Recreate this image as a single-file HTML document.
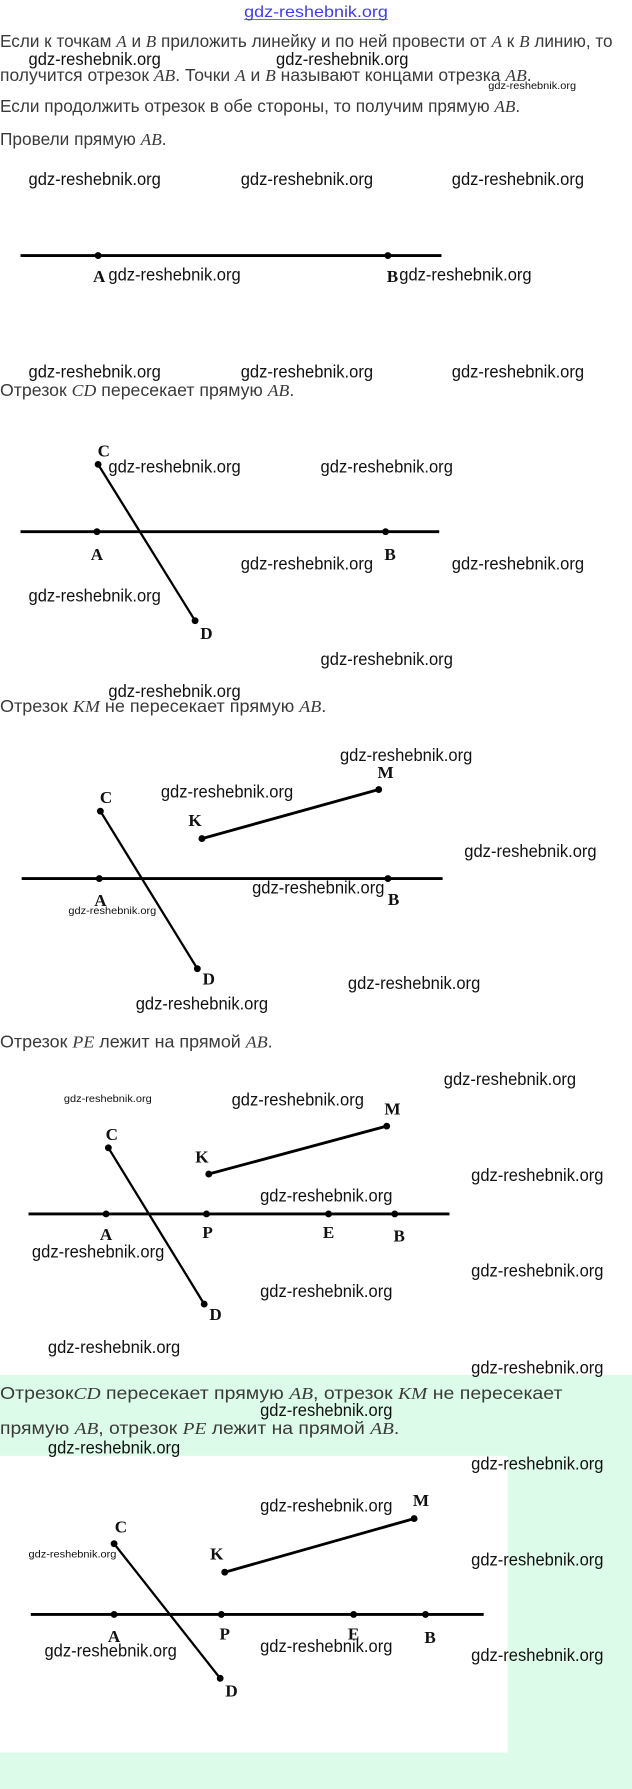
<!DOCTYPE html>
<html><head><meta charset="utf-8"><style>
html,body{margin:0;padding:0;background:#fff;}
svg{display:block;}
.w{font-family:"Liberation Sans Narrow","Liberation Sans",sans-serif;font-size:15px;fill:#111;}
.ws{font-family:"Liberation Sans Narrow","Liberation Sans",sans-serif;font-size:9px;fill:#111;}
.t{font-family:"Liberation Sans","DejaVu Sans",sans-serif;font-size:15px;fill:#3a3a3a;}
.m{font-family:"Liberation Serif",serif;font-style:italic;}
.l{font-family:"Liberation Serif",serif;font-weight:bold;font-size:15px;fill:#111;}
</style></head><body>
<svg width="632" height="1789" viewBox="0 0 554 1568" preserveAspectRatio="none" xmlns="http://www.w3.org/2000/svg">
<rect x="0" y="1205" width="554" height="363" fill="#dcfce9"/>
<rect x="0" y="1276" width="445" height="260" fill="#fff"/>
<text x="214" y="15" font-family="Liberation Sans Narrow, Liberation Sans, sans-serif" font-size="14" fill="#3d3df0" textLength="126" lengthAdjust="spacingAndGlyphs">gdz-reshebnik.org</text>
<line x1="214" y1="17" x2="340" y2="17" stroke="#3d3df0" stroke-width="0.7"/>

<g class="t">
<text x="0" y="41" textLength="537" lengthAdjust="spacingAndGlyphs">Если к точкам <tspan class="m">A</tspan> и <tspan class="m">B</tspan> приложить линейку и по ней провести от <tspan class="m">A</tspan> к <tspan class="m">B</tspan> линию, то</text>
<text x="0" y="71" textLength="466" lengthAdjust="spacingAndGlyphs">получится отрезок <tspan class="m">AB</tspan>. Точки <tspan class="m">A</tspan> и <tspan class="m">B</tspan> называют концами отрезка <tspan class="m">AB</tspan>.</text>
<text x="0" y="98" textLength="456" lengthAdjust="spacingAndGlyphs">Если продолжить отрезок в обе стороны, то получим прямую <tspan class="m">AB</tspan>.</text>
<text x="0" y="127" textLength="146" lengthAdjust="spacingAndGlyphs">Провели прямую <tspan class="m">AB</tspan>.</text>
<text x="0" y="347" textLength="258" lengthAdjust="spacingAndGlyphs">Отрезок <tspan class="m">CD</tspan> пересекает прямую <tspan class="m">AB</tspan>.</text>
<text x="0" y="624" textLength="286" lengthAdjust="spacingAndGlyphs">Отрезок <tspan class="m">KM</tspan> не пересекает прямую <tspan class="m">AB</tspan>.</text>
<text x="0" y="918" textLength="239" lengthAdjust="spacingAndGlyphs">Отрезок <tspan class="m">PE</tspan> лежит на прямой <tspan class="m">AB</tspan>.</text>
<text x="0" y="1226" textLength="493" lengthAdjust="spacingAndGlyphs">Отрезок<tspan class="m">CD</tspan> пересекает прямую <tspan class="m">AB</tspan>, отрезок <tspan class="m">KM</tspan> не пересекает</text>
<text x="0" y="1257" textLength="350" lengthAdjust="spacingAndGlyphs">прямую <tspan class="m">AB</tspan>, отрезок <tspan class="m">PE</tspan> лежит на прямой <tspan class="m">AB</tspan>.</text>
</g>

<g stroke="#000" fill="none">
<line x1="18" y1="224" x2="387" y2="224" stroke-width="2.5"/>
<line x1="18" y1="466" x2="385" y2="466" stroke-width="2.5"/>
<line x1="86" y1="407" x2="171" y2="544" stroke-width="2"/>
<line x1="19" y1="770" x2="388" y2="770" stroke-width="2.5"/>
<line x1="88" y1="711" x2="173" y2="849" stroke-width="2"/>
<line x1="177" y1="735" x2="332" y2="692" stroke-width="2.5"/>
<line x1="25" y1="1064" x2="394" y2="1064" stroke-width="2.5"/>
<line x1="95" y1="1006" x2="179" y2="1143" stroke-width="2"/>
<line x1="183" y1="1029" x2="339" y2="987" stroke-width="2.5"/>
<line x1="27" y1="1415" x2="424" y2="1415" stroke-width="2.5"/>
<line x1="100" y1="1353" x2="193" y2="1471" stroke-width="2"/>
<line x1="197" y1="1378" x2="363" y2="1331" stroke-width="2.5"/>
</g>
<g fill="#000">
<circle cx="86" cy="224" r="3"/><circle cx="340" cy="224" r="3"/>
<circle cx="85" cy="466" r="3"/><circle cx="338" cy="466" r="3"/><circle cx="86" cy="407" r="3"/><circle cx="171" cy="544" r="3"/>
<circle cx="87" cy="770" r="3"/><circle cx="340" cy="770" r="3"/><circle cx="88" cy="711" r="3"/><circle cx="173" cy="849" r="3"/><circle cx="177" cy="735" r="3"/><circle cx="332" cy="692" r="3"/>
<circle cx="93" cy="1064" r="3"/><circle cx="181" cy="1064" r="3"/><circle cx="288" cy="1064" r="3"/><circle cx="346" cy="1064" r="3"/><circle cx="95" cy="1006" r="3"/><circle cx="179" cy="1143" r="3"/><circle cx="183" cy="1029" r="3"/><circle cx="339" cy="987" r="3"/>
<circle cx="100" cy="1415" r="3"/><circle cx="194" cy="1415" r="3"/><circle cx="310" cy="1415" r="3"/><circle cx="373" cy="1415" r="3"/><circle cx="100" cy="1353" r="3"/><circle cx="193" cy="1471" r="3"/><circle cx="197" cy="1378" r="3"/><circle cx="363" cy="1331" r="3"/>
</g>
<g class="l" text-anchor="middle">
<text x="87" y="247">A</text><text x="344" y="247">B</text>
<text x="91" y="400">C</text><text x="181" y="560">D</text><text x="85" y="491">A</text><text x="342" y="491">B</text>
<text x="93" y="704">C</text><text x="183" y="863">D</text><text x="171" y="724">K</text><text x="338" y="682">M</text><text x="88" y="794">A</text><text x="345" y="793">B</text>
<text x="98" y="999">C</text><text x="189" y="1157">D</text><text x="177" y="1019">K</text><text x="344" y="977">M</text><text x="93" y="1087">A</text><text x="182" y="1085">P</text><text x="288" y="1085">E</text><text x="350" y="1088">B</text>
<text x="106" y="1343">C</text><text x="203" y="1487">D</text><text x="190" y="1367">K</text><text x="369" y="1320">M</text><text x="100" y="1439">A</text><text x="197" y="1437">P</text><text x="310" y="1437">E</text><text x="377" y="1440">B</text>
</g>
<g class="w">
<text x="25" y="57" textLength="116" lengthAdjust="spacingAndGlyphs">gdz-reshebnik.org</text>
<text x="242" y="57" textLength="116" lengthAdjust="spacingAndGlyphs">gdz-reshebnik.org</text>
<text x="25" y="162" textLength="116" lengthAdjust="spacingAndGlyphs">gdz-reshebnik.org</text>
<text x="211" y="162" textLength="116" lengthAdjust="spacingAndGlyphs">gdz-reshebnik.org</text>
<text x="396" y="162" textLength="116" lengthAdjust="spacingAndGlyphs">gdz-reshebnik.org</text>
<text x="95" y="246" textLength="116" lengthAdjust="spacingAndGlyphs">gdz-reshebnik.org</text>
<text x="350" y="246" textLength="116" lengthAdjust="spacingAndGlyphs">gdz-reshebnik.org</text>
<text x="25" y="331" textLength="116" lengthAdjust="spacingAndGlyphs">gdz-reshebnik.org</text>
<text x="211" y="331" textLength="116" lengthAdjust="spacingAndGlyphs">gdz-reshebnik.org</text>
<text x="396" y="331" textLength="116" lengthAdjust="spacingAndGlyphs">gdz-reshebnik.org</text>
<text x="95" y="414" textLength="116" lengthAdjust="spacingAndGlyphs">gdz-reshebnik.org</text>
<text x="281" y="414" textLength="116" lengthAdjust="spacingAndGlyphs">gdz-reshebnik.org</text>
<text x="211" y="499" textLength="116" lengthAdjust="spacingAndGlyphs">gdz-reshebnik.org</text>
<text x="396" y="499" textLength="116" lengthAdjust="spacingAndGlyphs">gdz-reshebnik.org</text>
<text x="25" y="527" textLength="116" lengthAdjust="spacingAndGlyphs">gdz-reshebnik.org</text>
<text x="281" y="583" textLength="116" lengthAdjust="spacingAndGlyphs">gdz-reshebnik.org</text>
<text x="95" y="611" textLength="116" lengthAdjust="spacingAndGlyphs">gdz-reshebnik.org</text>
<text x="298" y="667" textLength="116" lengthAdjust="spacingAndGlyphs">gdz-reshebnik.org</text>
<text x="141" y="699" textLength="116" lengthAdjust="spacingAndGlyphs">gdz-reshebnik.org</text>
<text x="407" y="751" textLength="116" lengthAdjust="spacingAndGlyphs">gdz-reshebnik.org</text>
<text x="221" y="783" textLength="116" lengthAdjust="spacingAndGlyphs">gdz-reshebnik.org</text>
<text x="305" y="867" textLength="116" lengthAdjust="spacingAndGlyphs">gdz-reshebnik.org</text>
<text x="119" y="885" textLength="116" lengthAdjust="spacingAndGlyphs">gdz-reshebnik.org</text>
<text x="389" y="951" textLength="116" lengthAdjust="spacingAndGlyphs">gdz-reshebnik.org</text>
<text x="203" y="969" textLength="116" lengthAdjust="spacingAndGlyphs">gdz-reshebnik.org</text>
<text x="413" y="1035" textLength="116" lengthAdjust="spacingAndGlyphs">gdz-reshebnik.org</text>
<text x="228" y="1053" textLength="116" lengthAdjust="spacingAndGlyphs">gdz-reshebnik.org</text>
<text x="28" y="1102" textLength="116" lengthAdjust="spacingAndGlyphs">gdz-reshebnik.org</text>
<text x="413" y="1119" textLength="116" lengthAdjust="spacingAndGlyphs">gdz-reshebnik.org</text>
<text x="228" y="1137" textLength="116" lengthAdjust="spacingAndGlyphs">gdz-reshebnik.org</text>
<text x="42" y="1186" textLength="116" lengthAdjust="spacingAndGlyphs">gdz-reshebnik.org</text>
<text x="413" y="1204" textLength="116" lengthAdjust="spacingAndGlyphs">gdz-reshebnik.org</text>
<text x="228" y="1241" textLength="116" lengthAdjust="spacingAndGlyphs">gdz-reshebnik.org</text>
<text x="42" y="1274" textLength="116" lengthAdjust="spacingAndGlyphs">gdz-reshebnik.org</text>
<text x="413" y="1288" textLength="116" lengthAdjust="spacingAndGlyphs">gdz-reshebnik.org</text>
<text x="228" y="1325" textLength="116" lengthAdjust="spacingAndGlyphs">gdz-reshebnik.org</text>
<text x="413" y="1372" textLength="116" lengthAdjust="spacingAndGlyphs">gdz-reshebnik.org</text>
<text x="39" y="1452" textLength="116" lengthAdjust="spacingAndGlyphs">gdz-reshebnik.org</text>
<text x="228" y="1448" textLength="116" lengthAdjust="spacingAndGlyphs">gdz-reshebnik.org</text>
<text x="413" y="1456" textLength="116" lengthAdjust="spacingAndGlyphs">gdz-reshebnik.org</text>
</g>
<g class="ws">
<text x="428" y="78" textLength="77" lengthAdjust="spacingAndGlyphs">gdz-reshebnik.org</text>
<text x="60" y="801" textLength="77" lengthAdjust="spacingAndGlyphs">gdz-reshebnik.org</text>
<text x="56" y="966" textLength="77" lengthAdjust="spacingAndGlyphs">gdz-reshebnik.org</text>
<text x="25" y="1365" textLength="77" lengthAdjust="spacingAndGlyphs">gdz-reshebnik.org</text>
</g>
</svg>
</body></html>
